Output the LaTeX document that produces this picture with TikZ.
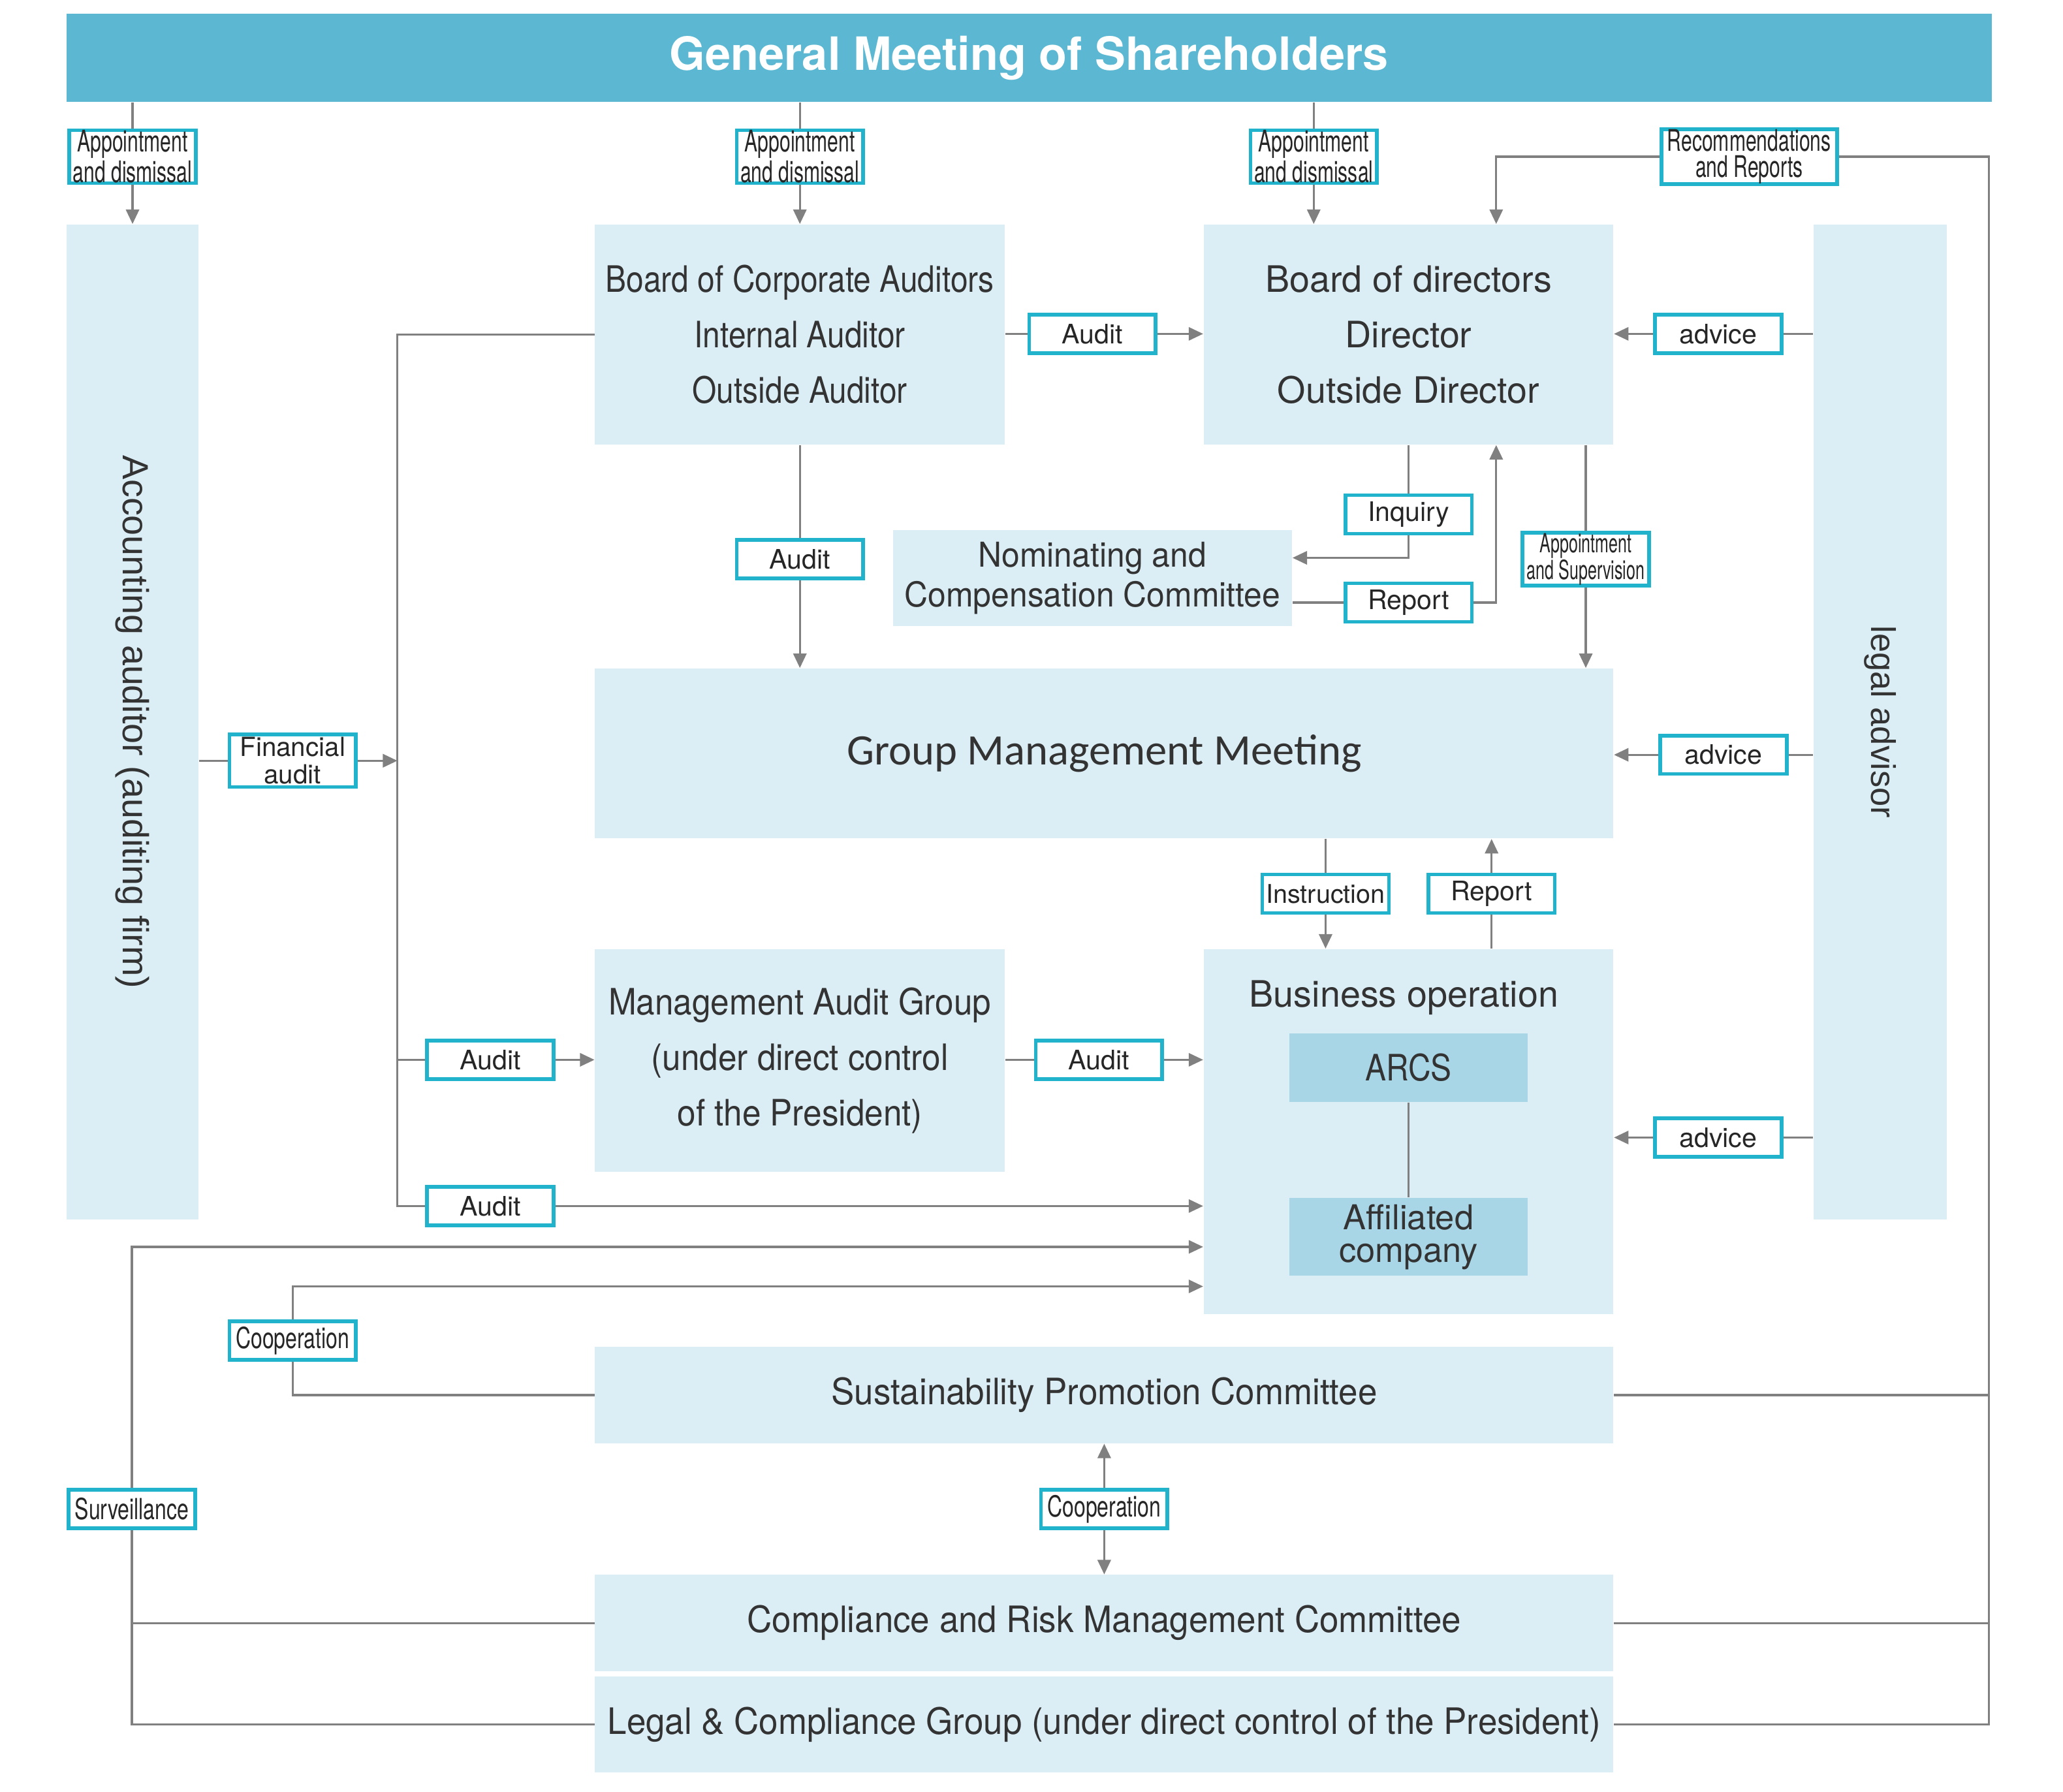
\documentclass[tikz,border=0pt]{standalone}
\usepackage{fontspec}
\setmainfont{TeX Gyre Heros}
\newfontfamily\midfont{TeX Gyre Heros}[FakeStretch=0.95]
\newfontfamily\magfont{TeX Gyre Heros}[FakeStretch=0.92]
\newfontfamily\narrowfont{TeX Gyre Heros}[FakeStretch=0.86]
\newfontfamily\condfont{TeX Gyre Heros}[FakeStretch=0.72]
\newfontfamily\apfont{TeX Gyre Heros}[FakeStretch=0.66]
\newfontfamily\xcondfont{TeX Gyre Heros}[FakeStretch=0.62]
\newfontfamily\arialfont{Liberation Sans}
\newfontfamily\calibrifont{Carlito}
\usepackage{graphicx}
\usepackage{xcolor}
\usetikzlibrary{arrows.meta}

\definecolor{barblue}{HTML}{5CB8D2}
\definecolor{boxblue}{HTML}{DCEEF5}
\definecolor{arcsblue}{HTML}{A9D6E6}
\definecolor{labteal}{HTML}{22B3CC}
\definecolor{linegray}{HTML}{808080}
\definecolor{txtgray}{HTML}{333333}

\begin{document}
\begin{tikzpicture}[x=0.5pt,y=-0.5pt,
    f/.style={-{Triangle[length=5.5pt,width=5pt]},draw=linegray,line width=0.8pt},%
    g/.style={draw=linegray,line width=0.8pt},%
    blk/.style={fill=boxblue,inner sep=0pt,text=txtgray,align=center,font=\fontsize{13.8}{21}\selectfont},%
    lab/.style={draw=labteal,line width=1.4pt,fill=white,inner sep=0pt,minimum width=48pt,minimum height=14.6pt,text=black!85,align=center,font=\fontsize{10.2}{10.5}\selectfont},%
    lab2/.style={lab,minimum height=20pt,font=\apfont\fontsize{11.3}{10}\selectfont}]
    \useasboundingbox (1.4,-0.4) rectangle (1567.2,1359.4);

    % boxes
    \node[fill=barblue,minimum width=730.5pt,minimum height=33.5pt,inner sep=0pt,text=white,font=\bfseries\fontsize{17.4}{20}\selectfont] (gm) at (782.5,43.5) {General Meeting of Shareholders};
    \node[blk,minimum width=50pt,minimum height=377.5pt,font=\arialfont\fontsize{13.8}{16}\selectfont] (aud) at (102,547.5) {\rotatebox{-90}{Accounting auditor (auditing firm)}};
    \node[blk,minimum width=155.5pt,minimum height=83.5pt,font=\narrowfont\fontsize{13.8}{21}\selectfont] (bca) at (608.5,253.5) {Board of Corporate Auditors\\Internal Auditor\\Outside Auditor};
    \node[blk,minimum width=155.5pt,minimum height=83.5pt] (bod) at (1070.5,253.5) {Board of directors\\Director\\Outside Director};
    \node[blk,minimum width=50.5pt,minimum height=377.5pt,font=\arialfont\fontsize{13}{16}\selectfont] (adv) at (1428.5,547.5) {\rotatebox{-90}{legal advisor}};
    \node[blk,minimum width=151.5pt,minimum height=36.5pt,font=\midfont\fontsize{13}{15}\selectfont] (ncc) at (830.5,438.5) {Nominating and\\Compensation Committee};
    \node[blk,minimum width=386.5pt,minimum height=64.5pt,font=\calibrifont\fontsize{16.5}{20}\selectfont] (gmm) at (839.5,571.5) {Group Management Meeting};
    \node[blk,minimum width=155.5pt,minimum height=84.5pt,font=\magfont\fontsize{13.8}{21}\selectfont] (mag) at (608.5,804.5) {Management Audit Group\\(under direct control\\of the President)};
    \node[blk,minimum width=155.5pt,minimum height=138.5pt] (bo) at (1070.5,858.5) {};
    \node[text=txtgray,font=\fontsize{13.8}{16}\selectfont] (bot) at (1067,757) {Business operation};
    \node[fill=arcsblue,inner sep=0pt,minimum width=90.5pt,minimum height=26pt,text=txtgray,font=\narrowfont\fontsize{13.8}{16}\selectfont] (arcs) at (1070.5,810) {ARCS};
    \node[fill=arcsblue,inner sep=0pt,minimum width=90.5pt,minimum height=29.5pt,text=txtgray,align=center,font=\fontsize{13}{12.4}\selectfont] (aff) at (1070.5,938.5) {Affiliated\\company};
    \node[blk,minimum width=386.5pt,minimum height=36.5pt,font=\midfont\fontsize{13.8}{16}\selectfont] (spc) at (839.5,1058.5) {Sustainability Promotion Committee};
    \node[blk,minimum width=386.5pt,minimum height=36.5pt,font=\midfont\fontsize{13.8}{16}\selectfont] (crmc) at (839.5,1231.5) {Compliance and Risk Management Committee};
    \node[blk,minimum width=386.5pt,minimum height=36.5pt,font=\midfont\fontsize{13.8}{16}\selectfont] (lcg) at (839.5,1308.5) {Legal \& Compliance Group (under direct control of the President)};

    % labels
    \node[lab2] (a1) at (102,118.5) {Appointment\\and dismissal};
    \node[lab2] (a2) at (608.5,118.5) {Appointment\\and dismissal};
    \node[lab2] (a3) at (998.5,118.5) {Appointment\\and dismissal};
    \node[lab2,minimum width=66.6pt] (rec) at (1329,118.5) {Recommendations\\and Reports};
    \node[lab] (au1) at (830.5,253) {Audit};
    \node[lab] (ad1) at (1305.5,253) {advice};
    \node[lab] (au2) at (608.5,424) {Audit};
    \node[lab] (inq) at (1070.5,390) {Inquiry};
    \node[lab] (rep1) at (1070.5,457) {Report};
    \node[lab,minimum height=20pt,font=\xcondfont\fontsize{10}{10}\selectfont] (aps) at (1205,424) {Appointment\\and Supervision};
    \node[lab] (ad2) at (1309.5,572.5) {advice};
    \node[lab,minimum height=20pt,font=\fontsize{10}{10.5}\selectfont] (fin) at (223.5,577) {Financial\\audit};
    \node[lab] (au3) at (373.5,804) {Audit};
    \node[lab] (au4) at (373.5,915) {Audit};
    \node[lab] (au5) at (835.5,804) {Audit};
    \node[lab,font=\fontsize{9.8}{10.5}\selectfont] (ins) at (1007.5,678) {Instruction};
    \node[lab] (rep2) at (1133.5,678) {Report};
    \node[lab] (ad3) at (1305.5,863) {advice};
    \node[lab,font=\condfont\fontsize{11}{12}\selectfont] (coo1) at (223.5,1017) {Cooperation};
    \node[lab,font=\condfont\fontsize{11}{12}\selectfont] (sur) at (101.5,1145) {Surveillance};
    \node[lab,font=\condfont\fontsize{11}{12}\selectfont] (coo2) at (839.5,1145) {Cooperation};

    \coordinate (rx) at (1137,0);
    \coordinate (ex) at (1511,0);
    \coordinate (lx) at (303,915);
    \coordinate (iq) at (0,423);
    \coordinate (sv) at (0,946);
    \coordinate (cv) at (0,976);

    % from the general meeting
    \draw[g] (gm.south -| a1) -- (a1);
    \draw[f] (a1) -- (aud);
    \draw[g] (gm.south -| a2) -- (a2);
    \draw[f] (a2) -- (a2 |- bca.north);
    \draw[g] (gm.south -| a3) -- (a3);
    \draw[f] (a3) -- (a3 |- bod.north);
    \draw[f] (rec) -| (bod.north -| rx);
    \draw[g] (rec) -| (lcg.east -| ex) -- (lcg.east);
    \draw[g] (spc.east) -- (spc.east -| ex);
    \draw[g] (crmc.east) -- (crmc.east -| ex);

    % audit and advice round the board
    \draw[g] (bca.east |- au1) -- (au1);
    \draw[f] (au1) -- (au1 -| bod.west);
    \draw[g] (adv.west |- ad1) -- (ad1);
    \draw[f] (ad1) -- (ad1 -| bod.east);
    \draw[g] (bca.south -| au2) -- (au2);
    \draw[f] (au2) -- (au2 |- gmm.north);
    \draw[g] (bod.south -| inq) -- (inq);
    \draw[f] (inq) |- (ncc.east |- iq);
    \draw[g] (ncc.east |- rep1) -- (rep1);
    \draw[f] (rep1) -| (bod.south -| rx);
    \draw[g] (bod.south -| aps) -- (aps);
    \draw[f] (aps) -- (aps |- gmm.north);
    \draw[g] (adv.west |- ad2) -- (ad2);
    \draw[f] (ad2) -- (ad2 -| gmm.east);

    % accounting auditor and audits
    \draw[g] (aud.east |- fin) -- (fin);
    \draw[f] (fin) -- (fin -| lx);
    \draw[g] (bca.west) -| (lx) -- (au4);
    \draw[g] (au3 -| lx) -- (au3);
    \draw[f] (au3) -- (au3 -| mag.west);
    \draw[f] (au4) -- (au4 -| bo.west);
    \draw[g] (mag.east |- au5) -- (au5);
    \draw[f] (au5) -- (au5 -| bo.west);

    % group management meeting and business operation
    \draw[g] (gmm.south -| ins) -- (ins);
    \draw[f] (ins) -- (ins |- bo.north);
    \draw[g] (bo.north -| rep2) -- (rep2);
    \draw[f] (rep2) -- (rep2 |- gmm.south);
    \draw[g] (arcs) -- (aff);
    \draw[g] (adv.west |- ad3) -- (ad3);
    \draw[f] (ad3) -- (ad3 -| bo.east);

    % surveillance and cooperation
    \draw[f] (sur) |- (bo.west |- sv);
    \draw[g] (sur) |- (lcg.west);
    \draw[g] (crmc.west) -- (crmc.west -| sur);
    \draw[f] (coo1) |- (bo.west |- cv);
    \draw[g] (coo1) |- (spc.west);
    \draw[f] (coo2) -- (coo2 |- spc.south);
    \draw[f] (coo2) -- (coo2 |- crmc.north);
\end{tikzpicture}
\end{document}
